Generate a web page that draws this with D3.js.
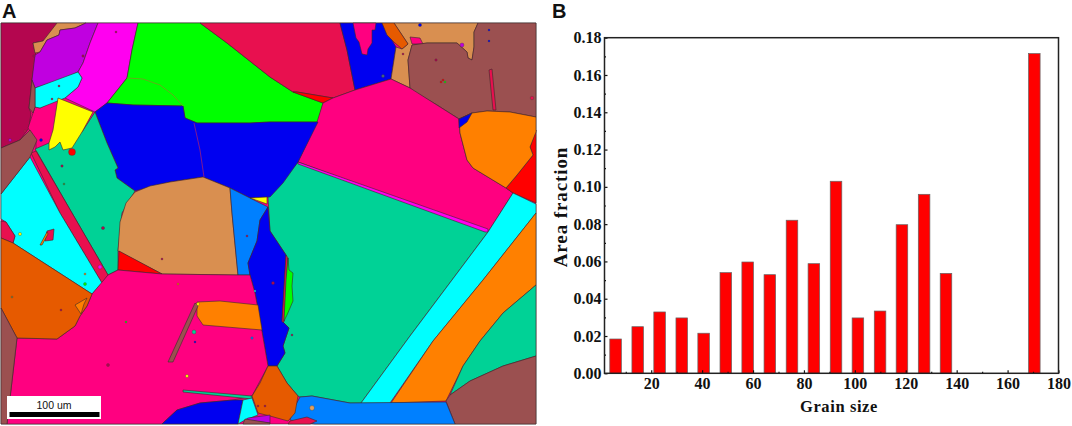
<!DOCTYPE html>
<html>
<head>
<meta charset="utf-8">
<script src="https://cdn.jsdelivr.net/npm/d3@7/dist/d3.min.js"></script>
<style>
  html, body { margin: 0; padding: 0; background: #fff; }
  svg { display: block; }
  .panel-label { font-family: "Liberation Sans", sans-serif; font-weight: bold; font-size: 20px; fill: #111; }
  .axis text { font-family: "Liberation Serif", serif; font-weight: bold; font-size: 16px; fill: #111; }
  .axis-title { font-family: "Liberation Serif", serif; font-weight: bold; fill: #111; }
  .grain { stroke: #3a2a2a; stroke-width: 0.6; stroke-linejoin: round; }
</style>
</head>
<body>
<svg id="fig" width="1072" height="426"></svg>
<script>
// bar chart data
const binCentres = [6, 14.7, 23.3, 32, 40.6, 49.3, 57.9, 66.6, 75.3, 83.9, 92.6, 101.2, 109.9, 118.5, 127.2, 135.8, 170.5];
const areaFractions = [0.0184, 0.025, 0.0329, 0.0297, 0.0215, 0.054, 0.0597, 0.0529, 0.0821, 0.0588, 0.103, 0.0297, 0.0334, 0.0797, 0.096, 0.0536, 0.1715];
const xTickValues = [20, 40, 60, 80, 100, 120, 140, 160, 180];
const xMinorValues = [10, 30, 50, 70, 90, 110, 130, 150, 170];
const yTickValues = [0, 0.02, 0.04, 0.06, 0.08, 0.1, 0.12, 0.14, 0.16, 0.18];
const yMinorValues = [0.01, 0.03, 0.05, 0.07, 0.09, 0.11, 0.13, 0.15, 0.17];

// micrograph colours
const pink = '#ff0080', crimson = '#e8104f', maroon = '#b4064f', tan = '#d98f50', purple = '#c000e0',
  magenta = '#ff00f0', lime = '#00ff00', blue = '#0000f0', cyan = '#00ffff', yellow = '#ffff00',
  teal = '#00d296', brown = '#9b5050', orange = '#ff8000', rust = '#e65a00', azure = '#0080ff', red = '#ff0000';

// grain outlines in image coordinates, painted in this order
const grains = [
  [pink, [[1,23],[536,23],[536,424],[1,424]]],
  [maroon, [[1,23],[57,23],[57,30],[43,41],[33,43],[36,55],[32,80],[29,108],[31,113],[29,128],[20,140],[1,148]]],
  [tan, [[57,23],[86,23],[75,28],[60,30],[59,35],[47,40],[40,52],[35,53],[33,43],[43,41]]],
  [purple, [[98,23],[90,43],[83,63],[78,72],[60,80],[35,88],[32,80],[35,55],[40,52],[47,40],[59,35],[60,30],[75,28],[86,23]]],
  [magenta, [[98,23],[138,23],[132,50],[127,78],[107,103],[95,112],[65,98],[78,87],[82,78],[78,72],[83,63],[90,43]]],
  [lime, [[138,23],[200,23],[227,43],[270,77],[293,92],[323,103],[318,122],[270,122],[250,123],[197,123],[185,118],[183,106],[133,105],[107,103],[127,78],[132,50]]],
  [crimson, [[200,23],[340,23],[347,50],[355,90],[333,98],[297,92],[293,92],[270,77],[227,43]]],
  [red, [[293,92],[297,92],[333,98],[323,103]]],
  [blue, [[340,23],[382,23],[396,47],[391,79],[355,90],[347,50]]],
  [pink, [[353,23],[376,23],[375,30],[372,30],[372,43],[368,49],[367,55],[362,54],[359,42],[356,38]]],
  [tan, [[394,23],[478,23],[474,32],[474,47],[472,60],[468,58],[467,52],[457,43],[427,43],[412,45],[408,60],[410,88],[391,79],[396,47],[402,49],[408,44]]],
  [rust, [[382,23],[394,23],[408,44],[402,49],[395,43],[387,35]]],
  [pink, [[410,37],[420,38],[423,44],[412,44]]],
  [brown, [[478,23],[536,23],[536,117],[510,112],[487,111],[472,113],[459,119],[437,105],[415,92],[410,88],[408,60],[412,45],[427,43],[457,43],[467,52],[468,58],[472,60],[474,47],[474,32]]],
  [crimson, [[489,70],[492,69],[496,110],[493,110]]],
  [teal, [[298,162],[488,232],[410,336],[361,403],[350,403],[312,396],[300,397],[298,396],[287,383],[277,366],[285,353],[283,346],[289,328],[282,321],[286,255],[270,231],[268,197]]],
  [pink, [[323,103],[333,98],[355,90],[391,79],[410,88],[459,119],[460,133],[467,160],[473,168],[506,188],[513,193],[488,232],[298,162],[317,122]]],
  [magenta, [[298,162],[488,229],[488,232],[485,232],[298,164]]],
  [red, [[536,130],[530,147],[533,155],[517,175],[506,188],[513,193],[536,203]]],
  [orange, [[459,119],[472,113],[487,111],[510,112],[536,117],[536,132],[530,147],[533,155],[517,175],[506,188],[473,168],[467,160],[460,133]]],
  [blue, [[459,119],[472,113],[467,122],[459,128]]],
  [cyan, [[513,193],[536,204],[536,213],[483,280],[433,341],[390,403],[361,403],[410,336],[488,232]]],
  [orange, [[536,213],[536,285],[503,313],[480,341],[463,366],[446,401],[391,403],[433,341],[483,280]]],
  [teal, [[536,285],[536,356],[503,366],[470,381],[450,395],[463,366],[480,341],[503,313]]],
  [brown, [[536,356],[536,424],[455,424],[446,401],[450,395],[470,381],[503,366]]],
  [azure, [[300,397],[312,396],[350,403],[446,402],[455,424],[315,424],[290,420],[293,410]]],
  [crimson, [[288,424],[290,421],[307,417],[317,421],[310,424]]],
  [blue, [[95,112],[107,103],[133,105],[183,106],[185,118],[197,123],[250,123],[270,122],[318,122],[298,162],[283,183],[270,197],[250,198],[230,188],[203,177],[170,182],[135,191],[117,178],[115,170],[118,168],[107,143]]],
  [pink, [[28,128],[33,113],[35,107],[40,108],[58,99],[55,130],[50,146],[36,151],[36,140]]],
  [cyan, [[35,88],[78,72],[82,78],[78,87],[65,98],[40,108],[35,107]]],
  [brown, [[32,80],[35,88],[35,107],[33,113],[29,108]]],
  [teal, [[95,112],[107,143],[118,168],[115,170],[117,178],[135,191],[122,213],[118,251],[118,270],[108,275],[72,213],[37,152],[35,149],[49,143],[60,138],[72,140],[82,132]]],
  [yellow, [[58,98],[93,112],[82,132],[72,148],[63,150],[60,142],[55,147],[49,150],[49,143],[53,130]]],
  [crimson, [[31,153],[36,151],[72,213],[108,275],[102,283],[60,213]]],
  [cyan, [[1,194],[30,157],[60,213],[102,283],[92,294],[13,243],[15,236],[6,222],[1,219]]],
  [crimson, [[1,221],[6,222],[15,236],[13,243],[1,238]]],
  [brown, [[1,148],[20,140],[30,130],[37,140],[30,157],[1,194]]],
  [tan, [[126,203],[135,192],[150,186],[170,182],[203,177],[230,188],[232,213],[238,275],[162,274],[118,251],[120,222]]],
  [red, [[119,251],[162,274],[118,270]]],
  [azure, [[230,188],[250,198],[268,207],[260,220],[257,241],[248,263],[250,275],[238,275],[232,213]]],
  [yellow, [[250,198],[267,197],[267,204]]],
  [blue, [[268,207],[270,231],[286,255],[282,321],[289,328],[283,346],[285,353],[277,366],[268,366],[260,320],[255,293],[250,275],[248,263],[257,241],[260,220]]],
  [crimson, [[286,255],[288,258],[284,322],[282,322]]],
  [lime, [[288,258],[289,270],[293,273],[292,286],[293,301],[287,315],[284,321],[286,280]]],
  [pink, [[118,270],[162,274],[238,275],[250,275],[255,293],[260,320],[268,366],[252,396],[233,400],[200,403],[177,410],[162,424],[7,424],[17,338],[57,339],[75,326],[80,316],[87,306],[92,294],[108,275]]],
  [rust, [[1,238],[13,243],[92,294],[87,306],[80,316],[75,326],[57,339],[17,338],[1,308]]],
  [brown, [[1,308],[17,338],[7,424],[1,424]]],
  [orange, [[197,302],[220,301],[258,305],[262,330],[203,325],[197,316]]],
  [brown, [[195,303],[198,306],[173,362],[168,362]]],
  [teal, [[183,390],[252,396],[252,399],[183,392]]],
  [rust, [[268,366],[277,366],[287,383],[298,396],[295,413],[288,421],[270,416],[258,413],[252,396],[260,383]]],
  [blue, [[162,424],[177,410],[200,403],[233,400],[243,400],[238,424]]],
  [cyan, [[243,400],[252,398],[258,415],[245,420],[238,424]]],
  [purple, [[248,418],[270,415],[270,423],[245,420]]],
  [brown, [[243,424],[245,419],[270,423],[270,424]]],
  [crimson, [[47,231],[54,229],[53,240],[45,241]]],
  [orange, [[40,245],[47,232],[48,234],[42,245]]],
  [orange, [[75,305],[87,298],[84,304],[81,314]]]
];

// thin sub-boundaries inside grains
const subBoundaries = [
  ['#7a9a20', [[127,78],[143,79],[160,85],[173,95],[183,106]]],
  ['#a0207a', [[194,123],[200,150],[204,177]]]
];

// small inclusions [x, y, r, colour]
const specks = [
  [72,152,3.5,red],[116,32,1,maroon],[83,56,1.2,maroon],[34,56,1.2,maroon],[59,86,1,maroon],[52,99,1,maroon],
  [62,166,1.2,maroon],[64,184,1,'#339933'],[10,140,1.5,purple],[25,131,1,crimson],[41,140,1.5,blue],
  [420,25,1.6,blue],[462,45,2,purple],[436,60,1.2,maroon],[403,54,1,maroon],[441,82,1,red],[445,82,1,lime],[443,80,1,red],
  [532,98,1.8,crimson],[489,30,1,blue],[489,41,1,blue],[383,76,1.5,'#446688'],
  [20,234,1.6,yellow],[103,228,1.6,maroon],[100,267,2,magenta],[85,274,1,orange],[85,284,1.5,lime],
  [162,259,1,maroon],[178,284,1,orange],[247,236,1,maroon],[255,291,1,cyan],
  [12,297,1,'#8a7a30'],[61,310,1,maroon],[126,322,1,lime],[194,332,2,teal],[198,304,1.5,yellow],[108,365,1.5,maroon],
  [187,376,1.5,yellow],[252,338,1.2,azure],[195,342,1,blue],[273,283,1.5,maroon],[292,335,1,maroon],
  [312,408,2.4,'#e0a060'],[265,406,1,maroon],[258,406,1,maroon]
];

const svg = d3.select('#fig');

// panel A, outlines go through scales like everything else
const imgX = d3.scaleLinear().domain([1, 536]).range([1, 536]);
const imgY = d3.scaleLinear().domain([23, 424]).range([23, 424]);
const outline = d3.line().x(d => imgX(d[0])).y(d => imgY(d[1]));

const map = svg.append('g').attr('class', 'map');

map.selectAll('path.grain')
  .data(grains)
  .enter().append('path')
    .attr('class', 'grain')
    .attr('fill', d => d[0])
    .attr('d', d => outline(d[1]) + 'Z');

map.selectAll('path.sub')
  .data(subBoundaries)
  .enter().append('path')
    .attr('class', 'sub')
    .attr('fill', 'none')
    .attr('stroke', d => d[0])
    .attr('stroke-width', 0.8)
    .attr('d', d => outline(d[1]));

map.selectAll('circle')
  .data(specks)
  .enter().append('circle')
    .attr('cx', d => imgX(d[0]))
    .attr('cy', d => imgY(d[1]))
    .attr('r', d => d[2])
    .attr('fill', d => d[3])
    .attr('stroke', '#333')
    .attr('stroke-width', 0.3);

// scale bar
map.append('rect').attr('x', imgX(7)).attr('y', imgY(396)).attr('width', 94).attr('height', 23).attr('fill', '#fff');
map.append('rect').attr('x', imgX(9.5)).attr('y', imgY(412)).attr('width', 90).attr('height', 5).attr('fill', '#000');
map.append('text').attr('x', imgX(54)).attr('y', imgY(409)).attr('text-anchor', 'middle')
  .attr('font-family', '"Liberation Sans", sans-serif').attr('font-size', 10.5).attr('fill', '#111')
  .text('100 um');

svg.append('text').attr('class', 'panel-label').attr('x', 2).attr('y', 18).text('A');
svg.append('text').attr('class', 'panel-label').attr('x', 552).attr('y', 17.5).text('B');

// panel B
const plot = { left: 604.5, right: 1058.5, top: 37.7, bottom: 373.3 };
const x = d3.scaleLinear().domain([1.65, 180]).range([plot.left, plot.right]);
const y = d3.scaleLinear().domain([0, 0.18]).range([plot.bottom, plot.top]);
const barWidth = x(4.55) - x(0);

svg.selectAll('rect.bar')
  .data(binCentres)
  .enter().append('rect')
    .attr('class', 'bar')
    .attr('x', d => x(d) - barWidth / 2)
    .attr('y', (d, i) => y(areaFractions[i]))
    .attr('width', barWidth)
    .attr('height', (d, i) => y(0) - y(areaFractions[i]))
    .attr('fill', '#ff0000')
    .attr('stroke', '#666')
    .attr('stroke-width', 0.7);

const xAxis = svg.append('g').attr('class', 'axis')
  .attr('transform', 'translate(0,' + plot.bottom + ')')
  .call(d3.axisBottom(x).tickValues(xTickValues).tickFormat(d3.format('d')).tickSize(-3).tickPadding(4.5));
const yAxis = svg.append('g').attr('class', 'axis')
  .attr('transform', 'translate(' + plot.left + ',0)')
  .call(d3.axisLeft(y).tickValues(yTickValues).tickFormat(d3.format('.2f')).tickSize(-3).tickPadding(3));

svg.append('g')
  .attr('transform', 'translate(0,' + plot.bottom + ')')
  .call(d3.axisBottom(x).tickValues(xMinorValues).tickFormat('').tickSize(-1.5));
svg.append('g')
  .attr('transform', 'translate(' + plot.left + ',0)')
  .call(d3.axisLeft(y).tickValues(yMinorValues).tickFormat('').tickSize(-1.5));

svg.selectAll('.domain').attr('stroke', 'none');
svg.selectAll('.tick line').attr('stroke', '#111').attr('stroke-width', 1.2);

// frame
svg.append('rect')
  .attr('x', plot.left).attr('y', plot.top)
  .attr('width', plot.right - plot.left).attr('height', plot.bottom - plot.top)
  .attr('fill', 'none').attr('stroke', '#222').attr('stroke-width', 1.5);

svg.append('text').attr('class', 'axis-title')
  .attr('x', 839).attr('y', 412).attr('text-anchor', 'middle')
  .attr('font-size', 16.5).attr('letter-spacing', 0.6)
  .text('Grain size');
svg.append('text').attr('class', 'axis-title')
  .attr('transform', 'translate(567,207) rotate(-90)').attr('text-anchor', 'middle')
  .attr('font-size', 19).attr('letter-spacing', 0.9)
  .text('Area fraction');
</script>
</body>
</html>
